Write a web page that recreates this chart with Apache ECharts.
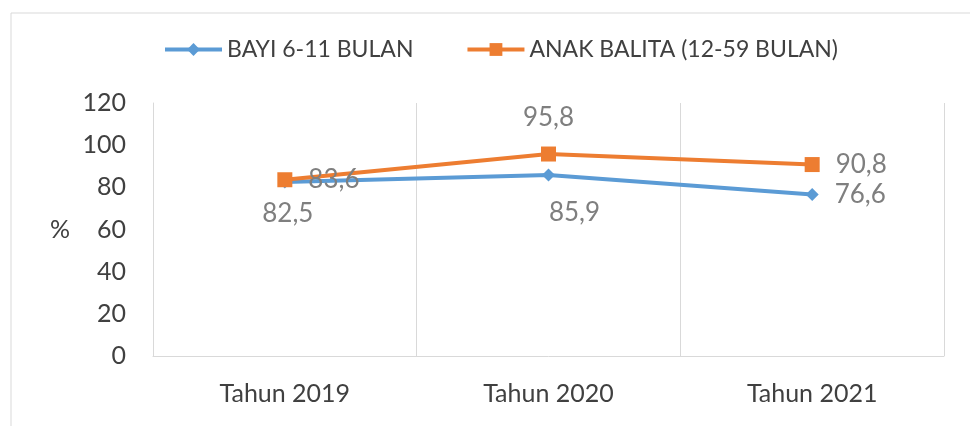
<!DOCTYPE html>
<html><head><meta charset="utf-8">
<script src="https://cdn.jsdelivr.net/npm/echarts@6/dist/echarts.min.js"></script>
<style>html,body{margin:0;padding:0;background:#fff}#c{width:970px;height:426px}</style>
</head><body><div id="c"></div>
<script>
const categories = ['Tahun 2019', 'Tahun 2020', 'Tahun 2021'];
const bayi = [82.5, 85.9, 76.6];
const balita = [83.6, 95.8, 90.8];
const yTicks = [0, 20, 40, 60, 80, 100, 120];
const seriesNames = ['BAYI 6-11 BULAN', 'ANAK BALITA (12-59 BULAN)'];

const FONT = 'Lato, "Open Sans", sans-serif';
const fmt = p => String(p.value).replace('.', ',');
const lbl = { show: true, color: '#7f7f7f', fontSize: 26, fontFamily: FONT, formatter: fmt };

const chart = echarts.init(document.getElementById('c'));
chart.setOption({
  animation: false,
  graphic: [{ type: 'rect', shape: { x: 11, y: 13, width: 1000, height: 500 }, style: { fill: 'none', stroke: '#d9d9d9', lineWidth: 1 }, silent: true }],
  legend: {
    top: 33, left: 158, itemWidth: 57, itemHeight: 16, itemGap: 52,
    lineStyle: { width: 4 },
    textStyle: { color: '#404040', fontSize: 23, fontFamily: FONT },
    data: seriesNames
  },
  grid: { left: 153, right: 26, top: 103, bottom: 70 },
  xAxis: {
    type: 'category', data: categories, boundaryGap: true,
    axisLine: { show: true, lineStyle: { color: '#d9d9d9', width: 1 } },
    axisTick: { show: false },
    splitLine: { show: true, lineStyle: { color: '#d9d9d9', width: 1 } },
    axisLabel: { color: '#404040', fontSize: 25, fontFamily: FONT, margin: 25 }
  },
  yAxis: {
    type: 'value', min: 0, max: 120, interval: 20,
    name: '%', nameLocation: 'middle', nameGap: 83, nameRotate: 0,
    nameTextStyle: { color: '#404040', fontSize: 25, fontFamily: FONT },
    axisLine: { show: true, lineStyle: { color: '#d9d9d9' } }, axisTick: { show: false },
    splitLine: { show: false },
    axisLabel: { color: '#404040', fontSize: 25, fontFamily: FONT, margin: 27, formatter: v => yTicks.includes(v) ? String(v) : '' }
  },
  series: [
    {
      name: seriesNames[0], type: 'line', data: bayi.map((v, i) => ({
        value: v,
        label: [
          { position: 'bottom', distance: 12, offset: [3, 0] },
          { position: 'bottom', distance: 18, offset: [26, 0] },
          { position: 'right', distance: 16 }
        ][i]
      })),
      symbol: 'diamond', symbolSize: 13, z: 2,
      lineStyle: { color: '#5b9bd5', width: 4 }, itemStyle: { color: '#5b9bd5' },
      label: lbl
    },
    {
      name: seriesNames[1], type: 'line', data: balita.map((v, i) => ({
        value: v,
        label: [
          { position: 'right', distance: 16 },
          { position: 'top', distance: 16, offset: [0, 0] },
          { position: 'right', distance: 16 }
        ][i]
      })),
      symbol: 'rect', symbolSize: 15, z: 3,
      lineStyle: { color: '#ed7d31', width: 4 }, itemStyle: { color: '#ed7d31' },
      label: lbl
    }
  ]
});
</script></body></html>
